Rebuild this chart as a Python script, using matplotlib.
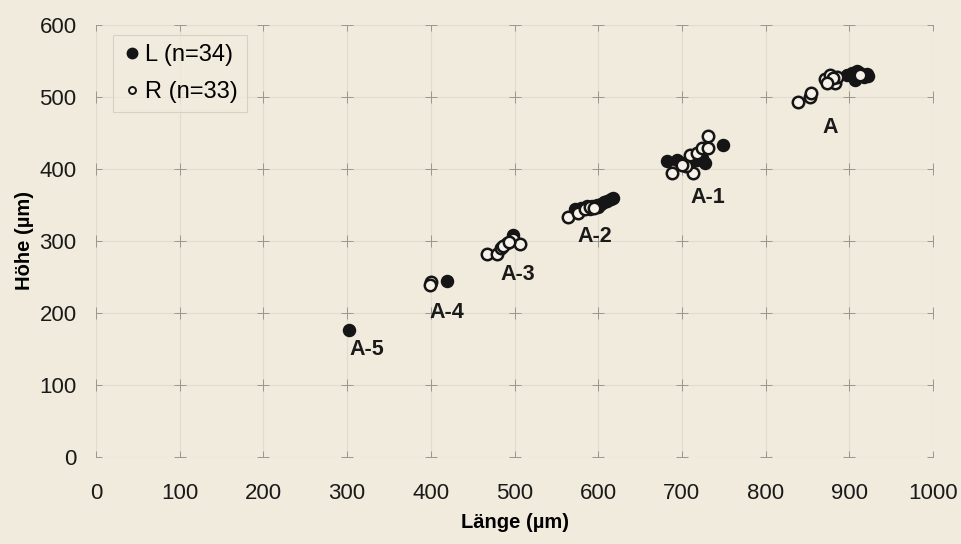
import numpy as np
import matplotlib.pyplot as plt
from matplotlib.lines import Line2D

# L (gefuellt)
l_x = [302, 419, 498, 491,
       572, 580, 587, 593, 598, 603, 607, 611, 615, 618, 600, 590,
       682, 694, 700, 706, 712, 718, 724, 728, 722, 749,
       897, 903, 907, 909, 913, 917, 921, 922]
l_y = [177, 245, 308, 297,
       344, 346, 348, 349, 350, 352, 354, 356, 358, 360, 347, 345,
       411, 412, 408, 410, 411, 412, 415, 408, 420, 434,
       531, 533, 524, 536, 533, 528, 532, 529]

# R (offen)
r_x = [400, 399,
       467, 479, 484, 486, 498, 507, 493,
       564, 576, 584, 590, 595,
       688, 713, 710, 718, 724, 731, 731, 705, 700,
       839, 853, 854, 871, 877, 883, 885, 880, 873, 913]
r_y = [243, 239,
       282, 282, 290, 293, 303, 296, 298,
       333, 339, 344, 347, 346,
       394, 395, 419, 422, 429, 429, 446, 404, 405,
       493, 500, 506, 525, 530, 519, 528, 527, 520, 530]

gruppen = ["A", "A-1", "A-2", "A-3", "A-4", "A-5"]
gruppen_x = [877, 731, 596, 504, 419, 324]
gruppen_y = [457, 360, 306, 253, 201, 149]

bg = "#f1ebde"
plt.rcParams['font.family'] = ['Liberation Sans', 'DejaVu Sans']

fig = plt.figure(figsize=(9.61, 5.44), dpi=100, facecolor=bg)
ax = fig.add_axes([0.0999, 0.160, 0.871, 0.794], facecolor=bg)

# Gitter mit kleinen Kreuzen
for gx in range(0, 1001, 100):
    ax.axvline(gx, color="#e2dccf", lw=0.9, zorder=0)
for gy in range(0, 601, 100):
    ax.axhline(gy, color="#e2dccf", lw=0.9, zorder=0)
gxx, gyy = np.meshgrid(np.arange(0, 1001, 100), np.arange(0, 601, 100))
ax.scatter(gxx.ravel(), gyy.ravel(), marker="+", s=80, color="#9a9792",
           linewidths=0.7, zorder=1)

ax.scatter(l_x, l_y, s=72, facecolor="#151515", edgecolor="#151515",
           linewidths=1.2, zorder=3)
ax.scatter(r_x, r_y, s=68, facecolor="#f6f2ea", edgecolor="#151515",
           linewidths=1.8, zorder=4)

for t, x, y in zip(gruppen, gruppen_x, gruppen_y):
    ax.text(x, y, t, ha="center", va="center", fontsize=15.5,
            fontweight="bold", color="#1a1a1a", zorder=5)

ax.set_xlim(0, 1000)
ax.set_ylim(0, 600)
ax.set_xticks(range(0, 1001, 100))
ax.set_yticks(range(0, 601, 100))
ax.tick_params(length=0, labelsize=16, colors="#1a1a1a")
ax.tick_params(axis="x", pad=19)
ax.tick_params(axis="y", pad=14)
for s in ax.spines.values():
    s.set_visible(False)

ax.set_xlabel("Länge (µm)", fontsize=14.5, fontweight="bold", labelpad=6)
ax.set_ylabel("Höhe (µm)", fontsize=14.5, fontweight="bold", labelpad=4)

handles = [
    Line2D([], [], ls="none", marker="o", markersize=7.5, color="#151515"),
    Line2D([], [], ls="none", marker="o", markersize=5, mfc="#f6f2ea",
           mec="#151515", mew=1.4),
]
leg = ax.legend(handles, ["L (n=34)", "R (n=33)"], loc="upper left",
                bbox_to_anchor=(0.0203, 0.977), fontsize=17, frameon=True,
                fancybox=False, handletextpad=0.15, handlelength=0.8,
                borderpad=0.4, labelspacing=0.62, borderaxespad=0)
leg.get_frame().set_facecolor(bg)
leg.get_frame().set_edgecolor("#d0cbc0")
leg.get_frame().set_linewidth(0.8)

fig.savefig("out.png", dpi=100, facecolor=bg)
